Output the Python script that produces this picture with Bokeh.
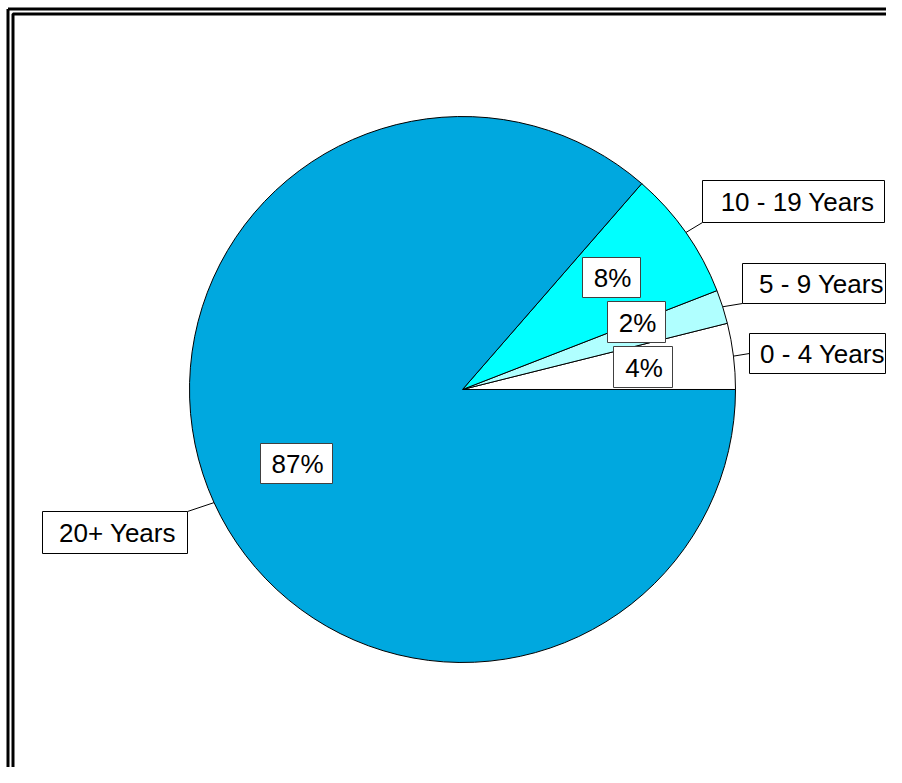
import math
from bokeh.plotting import figure
from bokeh.models import Range1d, ColumnDataSource
from bokeh.core.properties import value
from bokeh.embed import file_html
from bokeh.resources import INLINE

# ---- data ----
categories = ["0 - 4 Years", "5 - 9 Years", "10 - 19 Years", "20+ Years"]
shares = [3.9, 2.0, 7.7, 86.4]
pct_labels = ["4%", "2%", "8%", "87%"]
colors = ["#FFFFFF", "#B0FFFF", "#00FFFF", "#00A8DF"]

# ---- layout (pixel coordinates of label boxes) ----
CX, CY, R = 462, 389, 273
cat_boxes = [(749, 333, 885, 373), (742, 263, 885, 303), (702, 180, 884, 222), (42, 511, 187, 553)]
cat_text_x = [822, 821, 797, 117]
cat_anchor = [(749, 353), (742, 303), (702, 222), (187, 511)]
pct_boxes = [(613, 346, 672, 387), (607, 301, 665, 342), (582, 257, 640, 297), (260, 443, 332, 483)]

W, H = 886, 767


def dx(px):
    return px - CX


def dy(py):
    return CY - py


p = figure(width=W, height=H, output_backend="svg", toolbar_location=None,
           x_range=Range1d(-CX, W - CX), y_range=Range1d(CY - H, CY),
           min_border=0, outline_line_color=None)
p.axis.visible = False
p.grid.visible = False
p.background_fill_color = "white"
p.border_fill_color = "white"

# frames
p.line([dx(7.5), dx(7.5)], [dy(8.5), dy(800)], line_color="black", line_width=3)
p.line([dx(7.5), dx(910)], [dy(8.5), dy(8.5)], line_color="black", line_width=3)
p.line([dx(12.5), dx(12.5), dx(910)], [dy(790), dy(13.5), dy(13.5)], line_color="black", line_width=3)

# wedges
total = sum(shares)
starts, ends, mids = [], [], []
acc = 0.0
for s in shares:
    a0 = acc / total * 2 * math.pi
    acc += s
    a1 = acc / total * 2 * math.pi
    starts.append(a0)
    ends.append(a1)
    mids.append((a0 + a1) / 2)

src = ColumnDataSource(dict(start=starts, end=ends, color=colors, cat=categories))
p.wedge(x=0, y=0, radius=R, start_angle="start", end_angle="end",
        fill_color="color", line_color="black", line_width=1, source=src)

# leader lines
x0s = [R * math.cos(m) for m in mids]
y0s = [R * math.sin(m) for m in mids]
x1s = [dx(a[0]) for a in cat_anchor]
y1s = [dy(a[1]) for a in cat_anchor]
p.segment(x0=x0s, y0=y0s, x1=x1s, y1=y1s, line_color="black", line_width=1)

# category boxes
cb = dict(x=[dx((b[0] + b[2]) / 2) for b in cat_boxes], y=[dy((b[1] + b[3]) / 2) for b in cat_boxes],
          w=[b[2] - b[0] for b in cat_boxes], h=[b[3] - b[1] for b in cat_boxes],
          tx=[dx(t) for t in cat_text_x], ty=[dy((b[1] + b[3]) / 2 + 0.5) for b in cat_boxes],
          t=categories)
p.rect(x="x", y="y", width="w", height="h", fill_color="white", line_color="black", line_width=1,
       source=ColumnDataSource(cb))
p.text(x="tx", y="ty", text="t", text_font=value("Liberation Sans"), text_font_size="26px",
       text_align="center", text_baseline="middle", text_color="black", source=ColumnDataSource(cb))

# percentage boxes
pb = dict(x=[dx((b[0] + b[2]) / 2) for b in pct_boxes], y=[dy((b[1] + b[3]) / 2) for b in pct_boxes],
          w=[b[2] - b[0] for b in pct_boxes], h=[b[3] - b[1] for b in pct_boxes],
          tx=[dx((b[0] + b[2]) / 2 + 1) for b in pct_boxes], ty=[dy((b[1] + b[3]) / 2 + 0.5) for b in pct_boxes],
          t=pct_labels)
p.rect(x="x", y="y", width="w", height="h", fill_color="white", line_color="#404040", line_width=1,
       source=ColumnDataSource(pb))
p.text(x="tx", y="ty", text="t", text_font=value("Liberation Sans"), text_font_size="26px",
       text_align="center", text_baseline="middle", text_color="black", source=ColumnDataSource(pb))

open("out.html", "w").write(file_html(p, INLINE))
